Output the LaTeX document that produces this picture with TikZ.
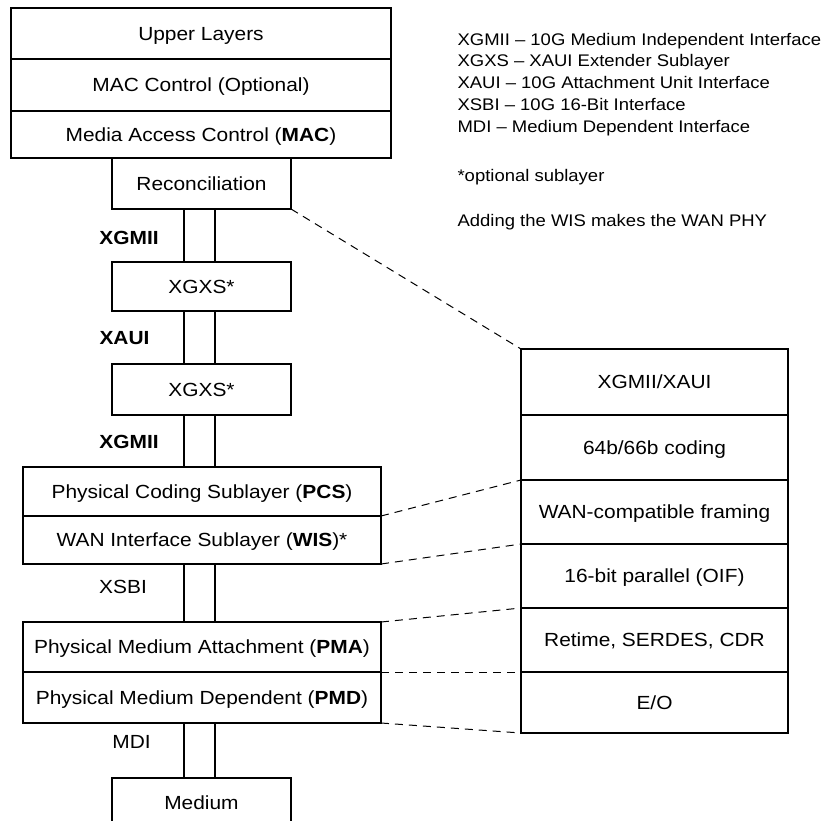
\documentclass[tikz,border=0pt]{standalone}
\usepackage{fontspec}
\setmainfont{Liberation Sans}[FakeStretch=1.1]
\usetikzlibrary{calc}
\newcommand\mainsz{\fontsize{19}{23}\selectfont}
\newcommand\legsz{\fontsize{16.8}{21}\selectfont}
\begin{document}
\begin{tikzpicture}[x=1pt,y=-1pt,line width=1.1pt,
  box/.style={draw, inner sep=0pt, outer sep=0pt, text height=13.6pt, text depth=0pt, font=\mainsz},
  wide/.style={box, minimum width=380pt},
  mid/.style={box, minimum width=179pt},
  phy/.style={box, minimum width=358pt},
  rbox/.style={box, minimum width=267pt},
  lbl/.style={inner sep=0pt, text height=13.6pt, text depth=0pt, font=\mainsz},
  leg/.style={inner sep=0pt, anchor=base west, font=\legsz},
  dashlink/.style={dash pattern=on 8pt off 6pt, line width=1pt}]
\useasboundingbox (0,0) rectangle (827,821);
% left stack
\node[wide, minimum height=51pt] (up) at (201,33.5) {Upper Layers};
\node[wide, minimum height=52pt] (macc) at (201,85) {MAC Control (Optional)};
\node[wide, minimum height=47pt] (mac) at (201,134.5) {Media Access Control (\textbf{MAC})};
\node[mid, minimum height=51pt] (rec) at (201.5,183.5) {Reconciliation};
\node[mid, minimum height=49pt] (xgxsa) at (201.5,286.5) {XGXS*};
\node[mid, minimum height=51pt] (xgxsb) at (201.5,389.5) {XGXS*};
\node[phy, minimum height=49pt] (pcs) at (202,491.5) {Physical Coding Sublayer (\textbf{PCS})};
\node[phy, minimum height=48pt] (wis) at (202,540) {WAN Interface Sublayer (\textbf{WIS})*};
\node[phy, minimum height=50pt] (pma) at (202,647) {Physical Medium Attachment (\textbf{PMA})};
\node[phy, minimum height=51pt] (pmd) at (202,697.5) {Physical Medium Dependent (\textbf{PMD})};
\node[lbl] (med) at (201.5,803) {Medium};
\coordinate (mbl) at (112,821);
\coordinate (mtl) at (112,778);
\coordinate (mtr) at (291,778);
\coordinate (mbr) at (291,821);
\draw (mbl) -- (mtl) -- (mtr) -- (mbr);
% interface labels
\node[lbl] (l1) at (129,238) {\textbf{XGMII}};
\node[lbl] (l2) at (124.5,338) {\textbf{XAUI}};
\node[lbl] (l3) at (129,442) {\textbf{XGMII}};
\node[lbl] (l4) at (123,587) {XSBI};
\node[lbl] (l5) at (131.5,742) {MDI};
% pillars
\coordinate (pa) at (184,0);
\coordinate (pb) at (215,0);
\foreach \p in {pa,pb}{
  \draw (rec.south -| \p) -- (xgxsa.north -| \p);
  \draw (xgxsa.south -| \p) -- (xgxsb.north -| \p);
  \draw (xgxsb.south -| \p) -- (pcs.north -| \p);
  \draw (wis.south -| \p) -- (pma.north -| \p);
  \draw (pmd.south -| \p) -- (\p |- mtl);
}
% right stack
\node[rbox, minimum height=66pt] (r1) at (654.5,382) {XGMII/XAUI};
\node[rbox, minimum height=65pt] (r2) at (654.5,447.5) {64b/66b coding};
\node[rbox, minimum height=64pt] (r3) at (654.5,512) {WAN-compatible framing};
\node[rbox, minimum height=64pt] (r4) at (654.5,576) {16-bit parallel (OIF)};
\node[rbox, minimum height=64pt] (r5) at (654.5,640) {Retime, SERDES, CDR};
\node[rbox, minimum height=61pt] (r6) at (654.5,702.5) {E/O};
% dashed links
\draw[dashlink] (rec.south east) -- (r1.north west);
\draw[dashlink] (pcs.south east) -- (r3.north west);
\draw[dashlink] (wis.south east) -- (r4.north west);
\draw[dashlink] (pma.north east) -- (r5.north west);
\draw[dashlink] (pma.south east) -- (r6.north west);
\draw[dashlink] (pmd.south east) -- (r6.south west);
% legend
\node[leg] (g1) at (457,45.5) {XGMII -- 10G Medium Independent Interface};
\node[leg] (g2) at (457,67) {XGXS -- XAUI Extender Sublayer};
\node[leg] (g3) at (457,88.5) {XAUI -- 10G Attachment Unit Interface};
\node[leg] (g4) at (457,111) {XSBI -- 10G 16-Bit Interface};
\node[leg] (g5) at (457,133) {MDI -- Medium Dependent Interface};
\node[leg] (g6) at (457,182) {*optional sublayer};
\node[leg] (g7) at (457,226) {Adding the WIS makes the WAN PHY};
\end{tikzpicture}
\end{document}
